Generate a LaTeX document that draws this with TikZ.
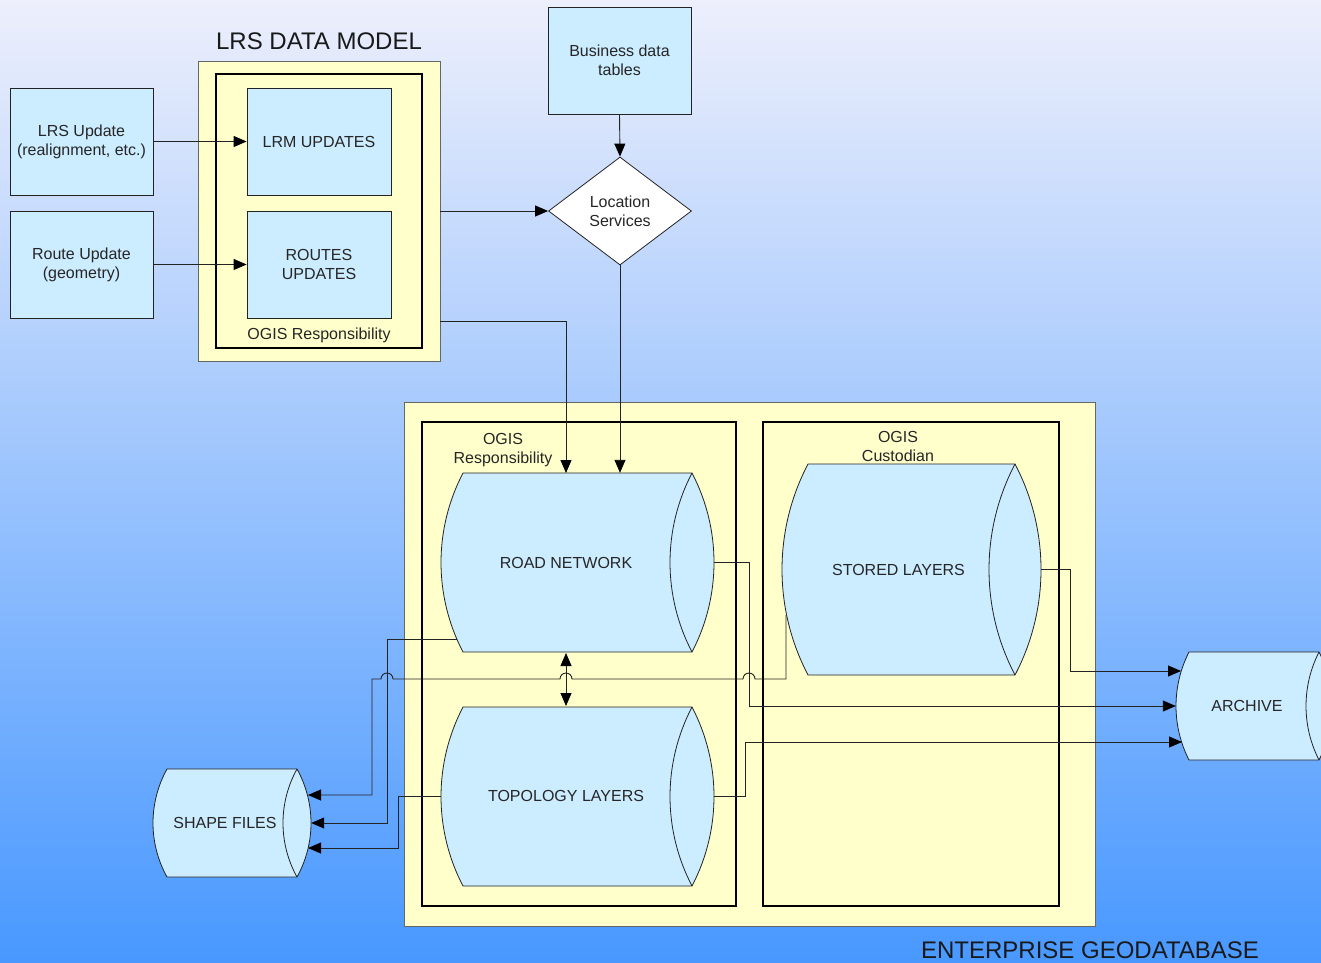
\documentclass[tikz,border=0pt]{standalone}
\usepackage{fontspec}
\setmainfont{Liberation Sans}
\usetikzlibrary{shapes.geometric,arrows.meta}
\definecolor{bgtop}{RGB}{237,239,252}
\definecolor{bgbot}{RGB}{72,152,255}
\definecolor{pale}{RGB}{255,255,204}
\definecolor{sky}{RGB}{204,236,255}
\definecolor{edge}{RGB}{35,35,35}
\tikzset{
  txt/.style={font=\fontsize{16}{19}\selectfont, align=center, inner sep=0pt, text=black!85},
  big/.style={font=\fontsize{24}{28}\selectfont, inner sep=0pt, text=black!90},
  bluebox/.style={draw=edge, fill=sky, line width=0.8pt, inner sep=0pt, align=center,
    font=\fontsize{16}{19}\selectfont, text=black!85},
  yellowbox/.style={draw=black!60, fill=pale, line width=0.8pt, inner sep=0pt},
  frame/.style={draw=black, line width=2.6pt, inner sep=0pt},
  drum/.style={draw=edge, fill=sky, line width=0.8pt},
  drumline/.style={draw=edge, line width=0.8pt},
  conn/.style={draw=edge, line width=0.9pt},
  arr/.style={conn, -{Triangle[length=13pt,width=11pt,fill=black,color=black]}},
  dblarr/.style={conn, {Triangle[length=13pt,width=11pt,fill=black,color=black]}-{Triangle[length=13pt,width=11pt,fill=black,color=black]}},
}
\newcommand\drumshape[6]{%
  \pgfmathsetmacro\drumH{(#5-#4)/2}%
  \pgfmathsetmacro\drumR{(#6*#6+\drumH*\drumH)/(2*#6)}%
  \pgfmathsetmacro\drumA{asin(\drumH/\drumR)}%
  \pgfmathsetmacro\drumW{#3-#2+2*#6}%
  \pgfmathsetmacro\drumHt{#5-#4}%
  \filldraw[drum] (#2,#4) -- (#3,#4) arc[start angle=\drumA, end angle=-\drumA, radius=\drumR pt]
     -- (#2,#5) arc[start angle=180+\drumA, end angle=180-\drumA, radius=\drumR pt] -- cycle;
  \draw[drumline] (#3,#4) arc[start angle=180-\drumA, end angle=180+\drumA, radius=\drumR pt];
  \node[inner sep=0pt, minimum width=\drumW pt, minimum height=\drumHt pt] (#1) at ({(#2+#3)/2},{(#4+#5)/2}) {};
}
\begin{document}
\begin{tikzpicture}[x=1pt,y=-1pt]
\useasboundingbox (0,0) rectangle (1321,962);
\clip (0,0) rectangle (1321,962);
\shade[top color=bgtop, bottom color=bgbot] (0,0) rectangle (1321,962);

% ---------- LRS data model ----------
\node[big] (lrstitle) at (319,41) {LRS DATA MODEL};
\node[yellowbox, minimum width=242pt, minimum height=300pt] (lrsmodel) at (319,211) {};
\node[frame, minimum width=206pt, minimum height=274pt] (lrsframe) at (319,211) {};
\node[bluebox, minimum width=144pt, minimum height=107pt] (lrm) at (319,141.5) {LRM UPDATES};
\node[bluebox, minimum width=144pt, minimum height=107pt] (routes) at (319,264.5) {ROUTES\\UPDATES};
\node[txt] (lrsresp) at (319,335) {OGIS Responsibility};

\node[bluebox, minimum width=143pt, minimum height=107pt] (lrsupd) at (81.5,141.5) {LRS Update\\(realignment, etc.)};
\node[bluebox, minimum width=143pt, minimum height=107pt] (routeupd) at (81.5,264.5) {Route Update\\(geometry)};
\node[bluebox, minimum width=143pt, minimum height=107pt] (biz) at (619.5,60.5) {Business data\\tables};
\node[diamond, draw=edge, fill=white, line width=0.8pt, minimum width=143pt, minimum height=108pt,
      inner sep=0pt, align=center, font=\fontsize{16}{19}\selectfont, text=black!85] (loc) at (620,211) {Location\\Services};

% ---------- Enterprise geodatabase ----------
\node[yellowbox, minimum width=691pt, minimum height=524pt] (egdb) at (749.5,664) {};
\node[big, anchor=base] (egdbtitle) at (1090,958) {ENTERPRISE GEODATABASE};
\node[frame, minimum width=314pt, minimum height=484pt] (frameL) at (579,664) {};
\node[frame, minimum width=296pt, minimum height=484pt] (frameR) at (911,664) {};
\node[txt] (respL) at (503,450) {OGIS\\Responsibility};
\node[txt] (custR) at (898,446) {OGIS\\Custodian};

\drumshape{road}{463}{692}{473}{652}{22}
\node[txt] (roadtxt) at (566,562.5) {ROAD NETWORK};
\drumshape{topo}{463}{692}{707}{886}{22}
\node[txt] (topotxt) at (566,795.5) {TOPOLOGY LAYERS};
\drumshape{stored}{808}{1015}{464}{675}{26}
\node[txt] (storedtxt) at (898.5,569.5) {STORED LAYERS};
\drumshape{shape}{167}{297}{769}{877}{14}
\node[txt] (shapetxt) at (225,822.5) {SHAPE FILES};
\drumshape{archive}{1189}{1319}{652}{760}{13}
\node[txt] (archivetxt) at (1247,705.5) {ARCHIVE};

% ---------- connector end points ----------
\coordinate (hs) at (440,321);
\coordinate (he) at (566,473);
\coordinate (astart) at (786,615);
\coordinate (aend) at (308,795);
\coordinate (bstart) at (457,639);
\coordinate (cend) at (308,848);
\coordinate (eend) at (1182,742);
\coordinate (fend) at (1181,671);
\coordinate (m1) at (566,653);
\coordinate (m2) at (566,706);

% ---------- connectors ----------
\draw[arr] (lrsupd.east) -- (lrm.west);
\draw[arr] (routeupd.east) -- (routes.west);
\draw[arr] (biz.south) -- (loc.north);
\draw[arr] (lrsmodel.east) -- (loc.west);
\draw[arr] (hs) -| (he);
\draw[arr] (loc.south) -- (loc.south |- road.north);
\draw[dblarr] (m1) -- (m2);

\draw[arr] (road.east) -- (749,562.5) |- (archive.west);
\draw[arr] (topo.east) -- (745,796.5) |- (eend);
\draw[arr] (stored.east) -- (1070,569.5) |- (fend);

\draw[arr] (bstart) -- (387,639) |- (shape.east);
\draw[arr] (topo.west) -- (398,796.5) |- (cend);
\draw[arr] (astart) -- (786,679) -- (755,679) arc[start angle=0, end angle=180, radius=6pt]
   -- (572,679) arc[start angle=0, end angle=180, radius=6pt]
   -- (393,679) arc[start angle=0, end angle=180, radius=6pt]
   -- (372,679) |- (aend);
\end{tikzpicture}
\end{document}
